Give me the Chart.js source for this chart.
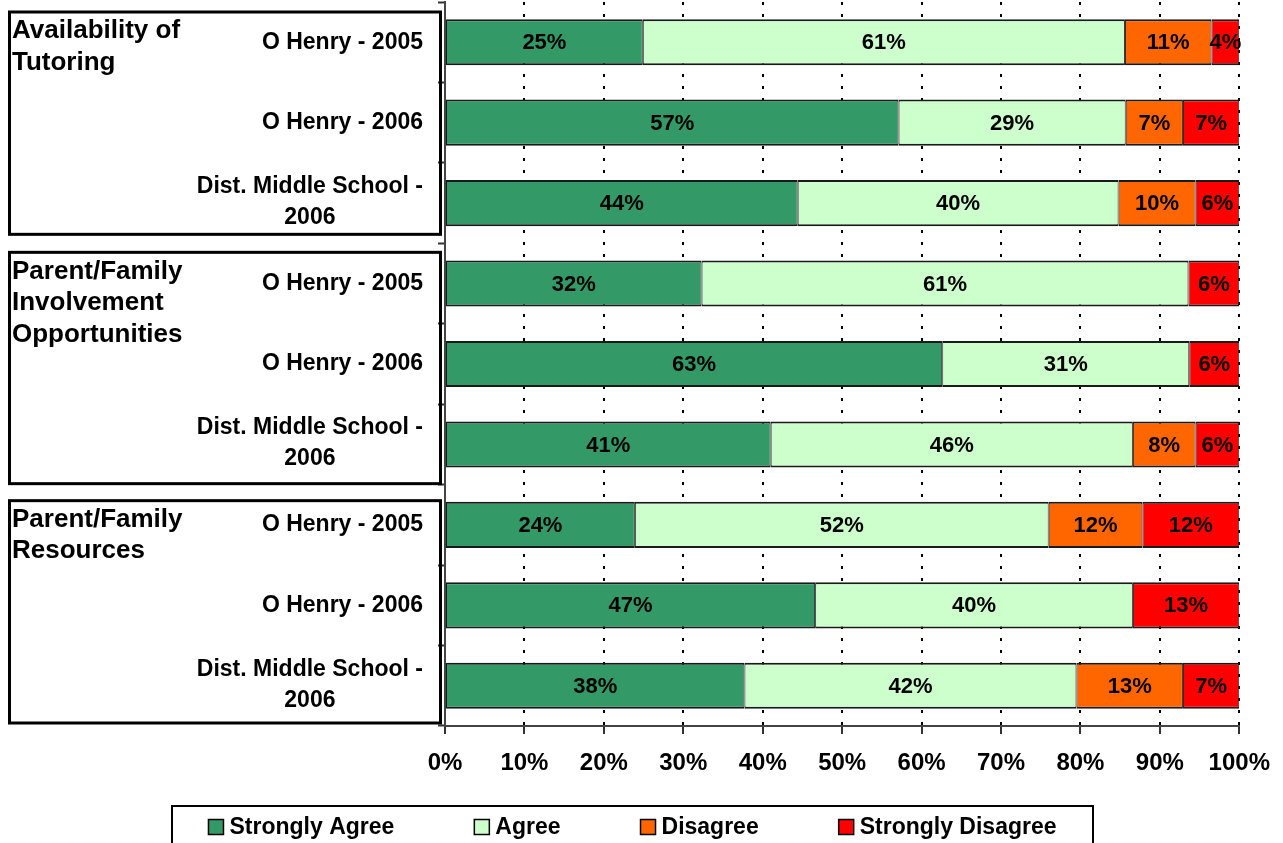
<!DOCTYPE html>
<html><head><meta charset="utf-8">
<script src="https://cdn.jsdelivr.net/npm/chart.js@4.4.1/dist/chart.umd.min.js"></script>
<style>html,body{margin:0;padding:0;background:#fff;} #wrap{width:1283px;height:843px;position:relative;}</style>
</head><body><div id="wrap"><canvas id="c"></canvas></div>
<script>
const groupLabels = [
  ["Availability of", "Tutoring"],
  ["Parent/Family", "Involvement", "Opportunities"],
  ["Parent/Family", "Resources"]
];
const categories = [
  "O Henry - 2005", "O Henry - 2006", ["Dist. Middle School -", "2006"],
  "O Henry - 2005", "O Henry - 2006", ["Dist. Middle School -", "2006"],
  "O Henry - 2005", "O Henry - 2006", ["Dist. Middle School -", "2006"]
];
const seriesNames = ["Strongly Agree", "Agree", "Disagree", "Strongly Disagree"];
const stronglyAgree    = [24.9, 57.1, 44.4, 32.3, 62.6, 41.0, 23.9, 46.6, 37.7];
const agree            = [60.7, 28.6, 40.4, 61.3, 31.1, 45.6, 52.1, 40.0, 41.8];
const disagree         = [10.9, 7.2, 9.7, null, null, 7.9, 11.8, null, 13.4];
const stronglyDisagree = [3.5, 7.1, 5.5, 6.4, 6.3, 5.5, 12.2, 13.4, 7.1];
const xTickLabels = ["0%", "10%", "20%", "30%", "40%", "50%", "60%", "70%", "80%", "90%", "100%"];
const seriesColors = ["#339966", "#CCFFCC", "#FF6600", "#FF0000"];

const FONT = "'Liberation Sans', Arial, sans-serif";
const seriesValues = [stronglyAgree, agree, disagree, stronglyDisagree];
const boxInsets = [[10, 9], [9, 1], [16, 3]];

const decorPlugin = {
  id: 'decor',
  afterDraw(chart) {
    const ctx = chart.ctx;
    const ys = chart.scales.y;
    const n = categories.length;
    const step = (ys.bottom - ys.top) / n;
    ctx.save();
    // group boxes and group labels
    groupLabels.forEach((lines, g) => {
      const top = ys.top + step * 3 * g + boxInsets[g][0];
      const bottom = ys.top + step * 3 * (g + 1) - boxInsets[g][1];
      ctx.lineWidth = 3;
      ctx.strokeStyle = '#000';
      ctx.strokeRect(9.5, top, 431, bottom - top);
      ctx.font = 'bold 26px ' + FONT;
      ctx.fillStyle = '#000';
      ctx.textAlign = 'left';
      ctx.textBaseline = 'middle';
      lines.forEach((t, i) => ctx.fillText(t, 12, top + 19 + i * 31.5));
    });
    // category labels
    ctx.font = 'bold 23px ' + FONT;
    ctx.fillStyle = '#000';
    ctx.textBaseline = 'middle';
    categories.forEach((lab, i) => {
      const cy = ys.getPixelForValue(i);
      const lines = Array.isArray(lab) ? lab : [lab];
      const widest = Math.max(...lines.map(l => ctx.measureText(l).width));
      const right = 423;
      ctx.textAlign = 'center';
      lines.forEach((l, k) => {
        const yy = cy + (k - (lines.length - 1) / 2) * 31 - (lines.length > 1 ? 1 : 0);
        ctx.fillText(l, right - widest / 2, yy);
      });
    });
    // data labels
    ctx.font = 'bold 22px ' + FONT;
    ctx.textAlign = 'center';
    ctx.textBaseline = 'middle';
    chart.data.datasets.forEach((ds, di) => {
      const meta = chart.getDatasetMeta(di);
      meta.data.forEach((el, i) => {
        const v = ds.data[i];
        if (v === null || v === undefined) return;
        const cx = (el.x + el.base) / 2;
        ctx.fillText(Math.round(v) + '%', cx, el.y + 1);
      });
    });
    // legend
    const lLeft = 172, lRight = 1093, lTop = 806;
    ctx.lineWidth = 2;
    ctx.strokeStyle = '#000';
    ctx.strokeRect(lLeft, lTop, lRight - lLeft, 60);
    ctx.font = 'bold 23px ' + FONT;
    ctx.textAlign = 'left';
    const box = 15, gapText = 6, gapItem = 80;
    const widths = chart.data.datasets.map(ds => box + gapText + ctx.measureText(ds.label).width);
    const total = widths.reduce((a, b) => a + b, 0) + gapItem * (widths.length - 1);
    let x = (lLeft + lRight) / 2 - total / 2;
    const cy = 827;
    chart.data.datasets.forEach((ds, di) => {
      ctx.fillStyle = ds.backgroundColor;
      ctx.fillRect(x, cy - 7.5, box, box);
      ctx.lineWidth = 1.5;
      ctx.strokeStyle = '#000';
      ctx.strokeRect(x, cy - 7.5, box, box);
      ctx.fillStyle = '#000';
      ctx.fillText(ds.label, x + box + gapText, cy + 1);
      x += widths[di] + gapItem;
    });
    ctx.restore();
  }
};

new Chart(document.getElementById('c'), {
  type: 'bar',
  data: {
    labels: categories,
    datasets: seriesNames.map((name, i) => ({
      label: name,
      data: seriesValues[i],
      backgroundColor: seriesColors[i],
      borderColor: '#1a1a1a',
      borderWidth: {top: 2, bottom: 2, left: 1, right: 1},
      borderSkipped: false,
      categoryPercentage: 1,
      barPercentage: 0.573
    }))
  },
  options: {
    indexAxis: 'y',
    responsive: true,
    maintainAspectRatio: false,
    animation: false,
    layout: {padding: {top: 2, right: 43, left: 0, bottom: 0}},
    plugins: {legend: {display: false}, tooltip: {enabled: false}},
    scales: {
      x: {
        stacked: true,
        min: 0, max: 100,
        ticks: {
          stepSize: 10,
          padding: 13,
          color: '#000',
          font: {family: FONT, size: 24, weight: 'bold', lineHeight: 1.333},
          callback: (v, i) => xTickLabels[i],
          maxRotation: 0
        },
        grid: {
          color: '#000',
          lineWidth: 2,
          drawTicks: true,
          tickLength: 8,
          tickColor: '#333',
          tickWidth: 2,
          tickBorderDash: []
        },
        border: {display: true, color: '#444', width: 2, dash: [3, 9]},
        afterFit: (s) => { s.height = 117; }
      },
      y: {
        stacked: true,
        ticks: {display: false},
        grid: {
          drawOnChartArea: false,
          drawTicks: true,
          tickLength: 7,
          tickColor: '#333',
          tickWidth: 2
        },
        border: {display: true, color: '#444', width: 2},
        afterFit: (s) => { s.width = 445; }
      }
    }
  },
  plugins: [decorPlugin]
});
</script>
</body></html>
